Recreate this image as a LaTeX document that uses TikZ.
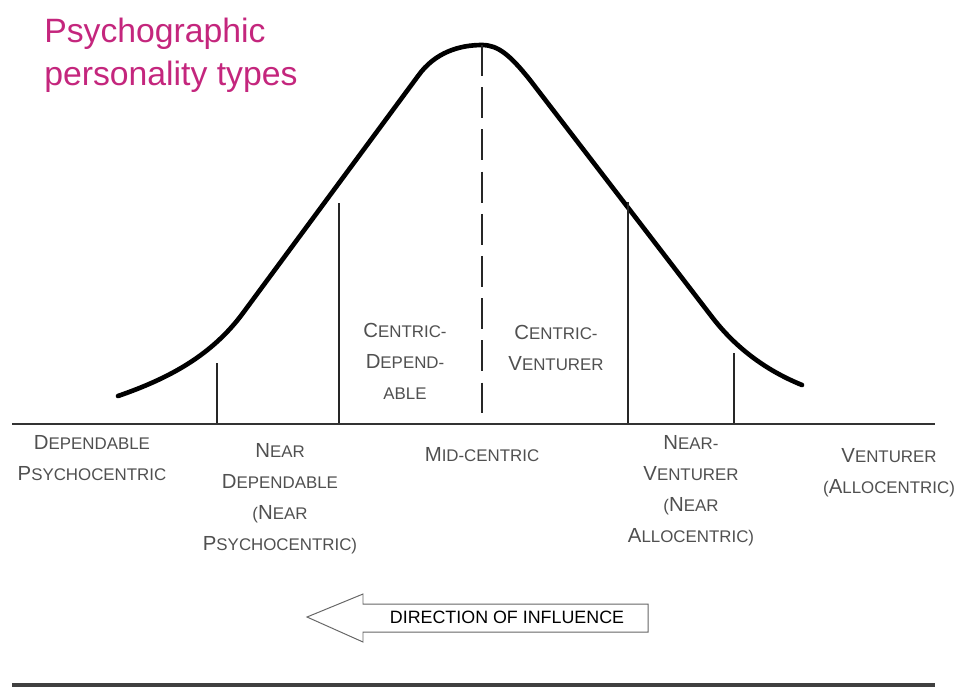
\documentclass[tikz,border=0pt]{standalone}
\usepackage{fontspec}
\setmainfont{Liberation Sans}
\definecolor{titlepink}{RGB}{196,38,125}
\definecolor{typegray}{RGB}{80,80,80}
\newcommand{\capword}[2]{{\fontsize{14.5}{22}\selectfont #1}#2}

\begin{document}
\begin{tikzpicture}[
  x=0.025cm, y=-0.025cm,
  bell/.style={line width=3.3pt, line join=round, line cap=round},
  divider/.style={line width=1pt, draw=black!85},
  typelabel/.style={align=center, inner sep=0pt, anchor=north, text=typegray, font=\fontsize{12}{22}\selectfont},
  headline/.style={anchor=base west, inner sep=0pt, text=titlepink, font=\fontsize{24}{30}\selectfont}
]
\useasboundingbox (0,0) rectangle (965,687);

% title
\node[headline] (title1) at (44,42) {Psychographic};
\node[headline] (title2) at (44,85) {personality types};

% bell curve
\draw[bell] (118,396) .. controls (170,378) and (212,355) .. (243,313)
  -- (418,76) .. controls (435,52) and (460,45) .. (482,45)
  .. controls (498,45) and (510,55) .. (530,80)
  -- (712,317) .. controls (735,347) and (765,370) .. (802,385);

% segment dividers
\draw[divider] (217,363) -- (217,424);
\draw[divider] (339,203) -- (339,424);
\draw[divider, dash pattern=on 22pt off 8pt] (482,45) -- (482,424);
\draw[divider] (628,202) -- (628,424);
\draw[divider] (734,353) -- (734,424);
\draw[line width=1.4pt, draw=black!80] (12,424) -- (935,424);

% type labels
\node[typelabel] (centdep) at (405,323.4) {\capword{C}{ENTRIC-}\\\capword{D}{EPEND-}\\ABLE};
\node[typelabel] (centven) at (556,325.4) {\capword{C}{ENTRIC-}\\\capword{V}{ENTURER}};
\node[typelabel] (dep) at (92,435.4) {\capword{D}{EPENDABLE}\\\capword{P}{SYCHOCENTRIC}};
\node[typelabel] (neardep) at (280,443.4) {\capword{N}{EAR}\\\capword{D}{EPENDABLE}\\(\capword{N}{EAR}\\\capword{P}{SYCHOCENTRIC})};
\node[typelabel] (mid) at (482,447.4) {\capword{M}{ID-CENTRIC}};
\node[typelabel] (nearven) at (691,435.4) {\capword{N}{EAR-}\\\capword{V}{ENTURER}\\(\capword{N}{EAR}\\\capword{A}{LLOCENTRIC})};
\node[typelabel] (venturer) at (889,448.4) {\capword{V}{ENTURER}\\(\capword{A}{LLOCENTRIC})};

% direction arrow
\draw[line width=0.7pt, draw=black!60, line join=miter] (307,617) -- (363,594) -- (363,604) -- (648,604) -- (648,632) -- (363,632) -- (363,642) -- cycle;
\node[inner sep=0pt, font=\fontsize{12.7}{15}\selectfont] (influence) at (507,617) {DIRECTION OF INFLUENCE};

\draw[line width=2.2pt, draw=black!75] (12,685) -- (935,685);
\end{tikzpicture}
\end{document}
